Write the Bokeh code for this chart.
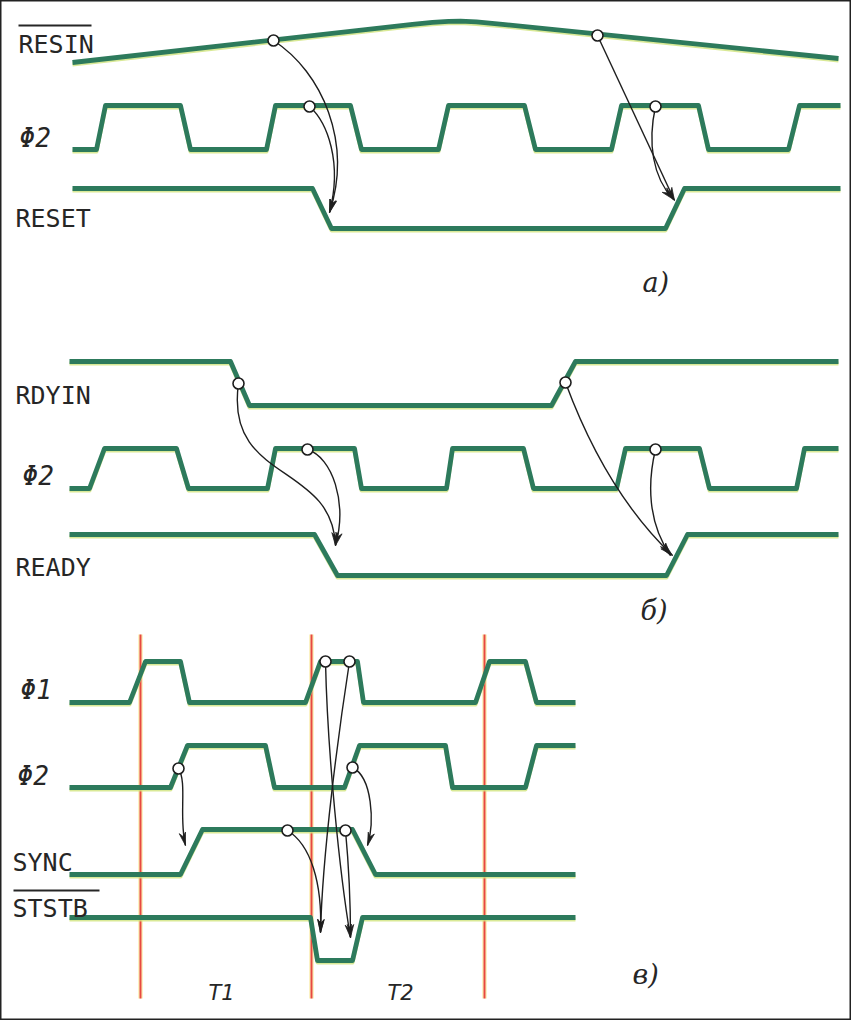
import math
from bokeh.plotting import figure
from bokeh.models import Range1d
from bokeh.core.properties import value
from bokeh.embed import file_html
from bokeh.resources import INLINE

# ---------------- data (picture pixel units) ----------------
# panel а
resin_x = [80, 420, 440, 456, 468, 484, 510, 846]
resin_y = [70, 31.8, 29.8, 28.8, 28.6, 29.4, 31.8, 66]
phi2a_x = [80, 104, 113, 188, 198, 274, 283, 358, 369, 446, 456, 532, 543, 619, 629, 706, 716, 796, 807, 848]
phi2a_y = [157, 157, 113, 113, 157, 157, 113, 113, 157, 157, 113, 113, 157, 157, 113, 113, 157, 157, 113, 113]
reset_x = [80, 320, 339, 673, 692, 848]
reset_y = [196, 196, 236, 236, 196, 196]
# panel б
rdyin_x = [77, 238, 257, 559, 583, 846]
rdyin_y = [369, 369, 413, 413, 369, 369]
phi2b_x = [77, 97, 112, 184, 196, 275, 283, 362, 369, 454, 460, 531, 541, 624, 633, 707, 717, 804, 812, 846]
phi2b_y = [496, 496, 456, 456, 496, 496, 456, 456, 496, 496, 456, 456, 496, 496, 456, 456, 496, 496, 456, 456]
ready_x = [77, 322, 345, 674, 695, 846]
ready_y = [542, 542, 583, 583, 542, 542]
# panel в
phi1_x = [77, 137, 153, 188, 197, 313, 328, 365, 371, 483, 497, 533, 544, 583]
phi1_y = [710, 710, 669, 669, 710, 710, 669, 669, 710, 710, 669, 669, 710, 710]
phi2c_x = [77, 178, 195, 273, 282, 352, 367, 453, 460, 533, 544, 583]
phi2c_y = [795, 795, 753, 753, 795, 795, 753, 753, 795, 795, 753, 753]
sync_x = [77, 188, 210, 360, 383, 583]
sync_y = [882, 882, 837, 837, 882, 882]
ststb_x = [77, 318, 325, 360, 370, 583]
ststb_y = [925, 925, 968, 968, 925, 925]

# clock boundaries (T1, T2)
red_x = [148, 319, 492]
red_top = [642, 642, 642]
red_bot = [1006, 1006, 1006]

# causal markers (circles)
circ_x = [281, 317, 605, 663, 246, 315, 573, 663, 333, 357, 186, 360, 295, 353]
circ_y = [48, 114, 43, 114, 391, 457, 390, 457, 669, 669, 776, 775, 838, 838]

# arrows: start, control 1, control 2, end
arr_x0 = [281, 317, 605, 663, 246, 315, 573, 663, 186, 360, 295, 353, 333, 357]
arr_y0 = [48, 114, 43, 114, 391, 457, 390, 457, 776, 775, 838, 838, 669, 669]
arr_c0x = [330, 335, 631, 655, 232, 340, 600, 655, 195, 380, 318, 356, 335, 346]
arr_c0y = [80, 130, 98, 150, 490, 465, 463, 490, 790, 785, 852, 870, 760, 740]
arr_c1x = [360, 350, 656, 660, 340, 355, 635, 655, 186, 382, 330, 358, 347, 330]
arr_c1y = [150, 170, 153, 185, 470, 510, 520, 530, 825, 830, 890, 910, 880, 860]
arr_x1 = [337, 337, 682, 681, 343, 343, 680, 678, 193, 375, 328, 358, 358, 328]
arr_y1 = [220, 220, 208, 207, 553, 553, 563, 563, 853, 853, 940, 945, 945, 940]

# labels
sig_text = ["RESIN", "RESET", "RDYIN", "READY", "SYNC", "STSTB"]
sig_tx = [26, 23, 23, 23, 20, 20]
sig_ty = [52, 226, 403, 575, 870, 916]
phi_text = ["Φ2", "Φ2", "Φ1", "Φ2"]
phi_tx = [27, 30, 28, 25]
phi_ty = [145, 483, 697, 783]
over_x0 = [26, 21]
over_x1 = [99, 107]
over_y = [33, 898]
part_text = ["а)", "б)", "в)"]
part_tx = [650, 648, 640]
part_ty = [290, 618, 982]
t_text = ["T1", "T2"]
t_tx = [229, 408]
t_ty = [1000, 1000]

GREEN = "#2d7a5c"
FRINGE = "#cfe37c"
RED = "#e8493f"
INK = "#1e1e1e"

p = figure(width=851, height=1020, x_range=Range1d(8, 859), y_range=Range1d(1028, 8),
           output_backend="svg", toolbar_location=None,
           x_axis_location=None, y_axis_location=None, min_border=0)
p.grid.visible = False
p.outline_line_color = "#222222"
p.outline_line_width = 2
p.background_fill_color = "white"
p.border_fill_color = "white"

# red clock lines
p.segment(x0=red_x, y0=red_top, x1=red_x, y1=red_bot, line_color="#f6e27a", line_width=5, line_alpha=0.45)
p.segment(x0=red_x, y0=red_top, x1=red_x, y1=red_bot, line_color=RED, line_width=2)

signals = [(resin_x, resin_y), (phi2a_x, phi2a_y), (reset_x, reset_y),
           (rdyin_x, rdyin_y), (phi2b_x, phi2b_y), (ready_x, ready_y),
           (phi1_x, phi1_y), (phi2c_x, phi2c_y), (sync_x, sync_y), (ststb_x, ststb_y)]
for sx, sy in signals:
    p.line(sx, [v + 2 for v in sy], line_color=FRINGE, line_width=4, line_alpha=0.8, line_join="round")
for sx, sy in signals:
    p.line(sx, sy, line_color=GREEN, line_width=4.8, line_join="round")

# arrows
p.bezier(x0=arr_x0, y0=arr_y0, x1=arr_x1, y1=arr_y1, cx0=arr_c0x, cy0=arr_c0y,
         cx1=arr_c1x, cy1=arr_c1y, line_color=INK, line_width=1.4)
hx, hy = [], []
for ex, ey, cx, cy in zip(arr_x1, arr_y1, arr_c1x, arr_c1y):
    dx, dy = ex - cx, ey - cy
    n = math.hypot(dx, dy)
    ux, uy = dx / n, dy / n
    L, W = 13, 3.2
    bx, by = ex - ux * L, ey - uy * L
    hx.append([ex, bx - uy * W, ex - ux * L * 0.7, bx + uy * W])
    hy.append([ey, by + ux * W, ey - uy * L * 0.7, by - ux * W])
p.patches(hx, hy, fill_color=INK, line_color=INK, line_width=0.8)

# circles
p.scatter(circ_x, circ_y, marker="circle", size=11, fill_color="white", line_color=INK, line_width=1.6)

# labels
p.text(x=sig_tx, y=sig_ty, text=sig_text, text_font=value("DejaVu Sans Mono"), text_font_size="25px",
       text_baseline="middle", text_align="left", text_color="#262626")
p.text(x=phi_tx, y=phi_ty, text=phi_text, text_font=value("DejaVu Sans Mono"), text_font_size="26px",
       text_font_style="italic", text_baseline="middle", text_align="left", text_color="#262626")
p.segment(x0=over_x0, y0=over_y, x1=over_x1, y1=over_y, line_color="#262626", line_width=2)
p.text(x=part_tx, y=part_ty, text=part_text, text_font=value("DejaVu Serif"), text_font_size="27px",
       text_font_style="italic", text_baseline="middle", text_align="left", text_color="#262626")
p.text(x=t_tx, y=t_ty, text=t_text, text_font=value("DejaVu Sans"), text_font_size="21px",
       text_font_style="italic", text_baseline="middle", text_align="center", text_color="#262626")

open("out.html", "w").write(file_html(p, INLINE))
